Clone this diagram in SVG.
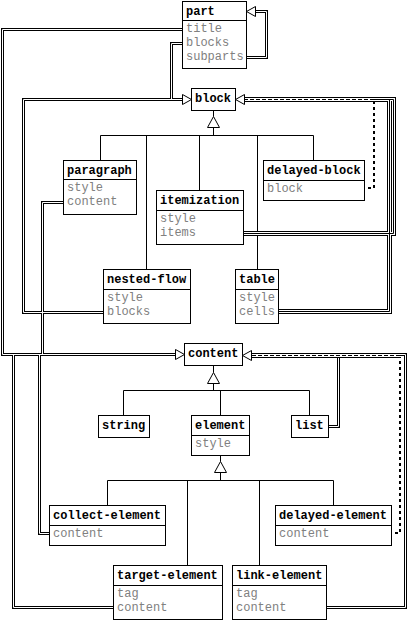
<svg xmlns="http://www.w3.org/2000/svg" width="408" height="620" viewBox="0 0 408 620">
<style>
.box{fill:#fff;stroke:#000;stroke-width:1}
.sep{stroke:#000;stroke-width:1}
.t{font-family:"Liberation Mono","DejaVu Sans Mono",monospace;font-size:12px;font-weight:bold;fill:#000}
.a{font-family:"Liberation Mono","DejaVu Sans Mono",monospace;font-size:12px;fill:#808080}
.ln{fill:none;stroke:#000;stroke-width:1}
.tri{fill:#fff;stroke:#000;stroke-width:1}
.k3{fill:none;stroke:#000;stroke-width:3}
.w1{fill:none;stroke:#fff;stroke-width:1}
.k5{fill:none;stroke:#000;stroke-width:5}
.w3{fill:none;stroke:#fff;stroke-width:3}
.k1{fill:none;stroke:#000;stroke-width:1}
.dv{fill:none;stroke:#000;stroke-width:2;stroke-dasharray:3 3;stroke-dashoffset:3}
.dh{fill:none;stroke:#000;stroke-width:1;stroke-dasharray:4 2}
.arr{fill:#fff;stroke:#000;stroke-width:1}
</style>
<defs>
<path id="c1" d="M182 29.5H2.5V354.5H179"/>
<path id="c2" d="M182 43.5H171.5V99.5H186"/>
<path id="c3" d="M247 57.5H266.5V11.5H252"/>
<path id="c4" d="M63 202.5H42.5V354.5H179"/>
<path id="c5" d="M103 312.5H23.5V99.5H186"/>
<path id="c6" d="M49 533.5H39.5V354.5H179"/>
<path id="c7" d="M113 607.5H13.5V354.5H179"/>
<path id="c8" d="M329 426.5H338.5V356.5H248"/>
<path id="c9" d="M327 607.5H405.5V354.5H248"/>
<path id="t1" d="M244 233.5H393.5V99.5H241"/>
<path id="t2" d="M279 311.5H389.5V99.5H241"/>
<path id="h1" d="M374 99.5H241"/>
<path id="h2" d="M400 355.5H248"/>
<path id="v1" d="M365 188H374V101"/>
<path id="v2" d="M392 533H400V357"/>
</defs>

<g id="node-part">
<rect class="box" x="182.5" y="1.5" width="64" height="67"/>
<line class="sep" x1="182.5" y1="20.5" x2="246.5" y2="20.5"/>
<text class="t" x="186" y="15">part</text>
<text class="a" x="186" y="32">title</text>
<text class="a" x="186" y="46">blocks</text>
<text class="a" x="186" y="60">subparts</text>
</g>
<g id="node-block">
<rect class="box" x="191.5" y="88.5" width="44" height="22"/>
<text class="t" x="195" y="102">block</text>
</g>
<g id="node-paragraph">
<rect class="box" x="63.5" y="160.5" width="73" height="54"/>
<line class="sep" x1="63.5" y1="179.5" x2="136.5" y2="179.5"/>
<text class="t" x="67" y="174">paragraph</text>
<text class="a" x="67" y="191">style</text>
<text class="a" x="67" y="205">content</text>
</g>
<g id="node-itemization">
<rect class="box" x="156.5" y="190.5" width="87" height="54"/>
<line class="sep" x1="156.5" y1="210.5" x2="243.5" y2="210.5"/>
<text class="t" x="160" y="204">itemization</text>
<text class="a" x="160" y="222">style</text>
<text class="a" x="160" y="236">items</text>
</g>
<g id="node-delayed-block">
<rect class="box" x="263.5" y="160.5" width="101" height="40"/>
<line class="sep" x1="263.5" y1="180.5" x2="364.5" y2="180.5"/>
<text class="t" x="267" y="174">delayed-block</text>
<text class="a" x="267" y="192">block</text>
</g>
<g id="node-nested-flow">
<rect class="box" x="103.5" y="269.5" width="87" height="54"/>
<line class="sep" x1="103.5" y1="289.5" x2="190.5" y2="289.5"/>
<text class="t" x="107" y="283">nested-flow</text>
<text class="a" x="107" y="301">style</text>
<text class="a" x="107" y="315">blocks</text>
</g>
<g id="node-table">
<rect class="box" x="235.5" y="269.5" width="43" height="54"/>
<line class="sep" x1="235.5" y1="289.5" x2="278.5" y2="289.5"/>
<text class="t" x="239" y="283">table</text>
<text class="a" x="239" y="301">style</text>
<text class="a" x="239" y="315">cells</text>
</g>
<g id="node-content">
<rect class="box" x="184.5" y="343.5" width="58" height="22"/>
<text class="t" x="188" y="357">content</text>
</g>
<g id="node-string">
<rect class="box" x="98.5" y="415.5" width="51" height="22"/>
<text class="t" x="102" y="429">string</text>
</g>
<g id="node-element">
<rect class="box" x="191.5" y="415.5" width="58" height="40"/>
<line class="sep" x1="191.5" y1="435.5" x2="249.5" y2="435.5"/>
<text class="t" x="195" y="429">element</text>
<text class="a" x="195" y="447">style</text>
</g>
<g id="node-list">
<rect class="box" x="291.5" y="415.5" width="37" height="22"/>
<text class="t" x="295" y="429">list</text>
</g>
<g id="node-collect-element">
<rect class="box" x="49.5" y="505.5" width="116" height="40"/>
<line class="sep" x1="49.5" y1="525.5" x2="165.5" y2="525.5"/>
<text class="t" x="53" y="519">collect-element</text>
<text class="a" x="53" y="537">content</text>
</g>
<g id="node-delayed-element">
<rect class="box" x="275.5" y="505.5" width="116" height="40"/>
<line class="sep" x1="275.5" y1="525.5" x2="391.5" y2="525.5"/>
<text class="t" x="279" y="519">delayed-element</text>
<text class="a" x="279" y="537">content</text>
</g>
<g id="node-target-element">
<rect class="box" x="113.5" y="565.5" width="109" height="54"/>
<line class="sep" x1="113.5" y1="585.5" x2="222.5" y2="585.5"/>
<text class="t" x="117" y="579">target-element</text>
<text class="a" x="117" y="597">tag</text>
<text class="a" x="117" y="611">content</text>
</g>
<g id="node-link-element">
<rect class="box" x="232.5" y="565.5" width="94" height="54"/>
<line class="sep" x1="232.5" y1="585.5" x2="326.5" y2="585.5"/>
<text class="t" x="236" y="579">link-element</text>
<text class="a" x="236" y="597">tag</text>
<text class="a" x="236" y="611">content</text>
</g>

<g id="connectors">
<path class="ln" d="M213.5 110.5V116.5M213.5 127.5V135.5M100.5 135.5H313.5M100.5 135.5V160.5M146.5 135.5V269.5M199.5 135.5V190.5M257.5 135.5V269.5M313.5 135.5V160.5"/>
<polygon class="tri" points="213.5,116.5 207.5,127.5 219.5,127.5"/>
<path class="ln" d="M213.5 365.5V372.5M213.5 383.5V390.5M123.5 390.5H309.5M123.5 390.5V415.5M220.5 390.5V415.5M309.5 390.5V415.5"/>
<polygon class="tri" points="213.5,372.5 207.5,383.5 219.5,383.5"/>
<path class="ln" d="M220.5 455.5V461.5M220.5 472.5V480.5M107.5 480.5H333.5M107.5 480.5V505.5M187.5 480.5V565.5M259.5 480.5V565.5M333.5 480.5V505.5"/>
<polygon class="tri" points="220.5,461.5 214.5,472.5 226.5,472.5"/>

<use href="#c1" class="k3"/><use href="#c2" class="k3"/><use href="#c3" class="k3"/>
<use href="#c4" class="k3"/><use href="#c5" class="k3"/><use href="#c6" class="k3"/>
<use href="#c7" class="k3"/><use href="#c8" class="k3"/><use href="#c9" class="k3"/>
<use href="#t1" class="k5"/><use href="#t2" class="k5"/>
<use href="#c1" class="w1"/><use href="#c2" class="w1"/><use href="#c3" class="w1"/>
<use href="#c4" class="w1"/><use href="#c5" class="w1"/><use href="#c6" class="w1"/>
<use href="#c7" class="w1"/><use href="#c8" class="w1"/><use href="#c9" class="w1"/>
<use href="#t1" class="w3"/><use href="#t2" class="w3"/>
<use href="#t1" class="k1"/><use href="#t2" class="k1"/>
<use href="#h1" class="k5"/><use href="#h2" class="k5"/>
<use href="#h1" class="w3"/><use href="#h2" class="w3"/>
<use href="#h1" class="dh"/><use href="#h2" class="dh"/>
<use href="#v1" class="dv"/><use href="#v2" class="dv"/>

<polygon class="arr" points="182.5,94.5 191.5,99.5 182.5,104.5"/>
<polygon class="arr" points="244.5,94.5 235.5,99.5 244.5,104.5"/>
<polygon class="arr" points="255.5,6.5 246.5,11.5 255.5,16.5"/>
<polygon class="arr" points="175.5,349.5 184.5,354.5 175.5,359.5"/>
<polygon class="arr" points="251.5,350.5 242.5,355.5 251.5,360.5"/>
</g>
</svg>
